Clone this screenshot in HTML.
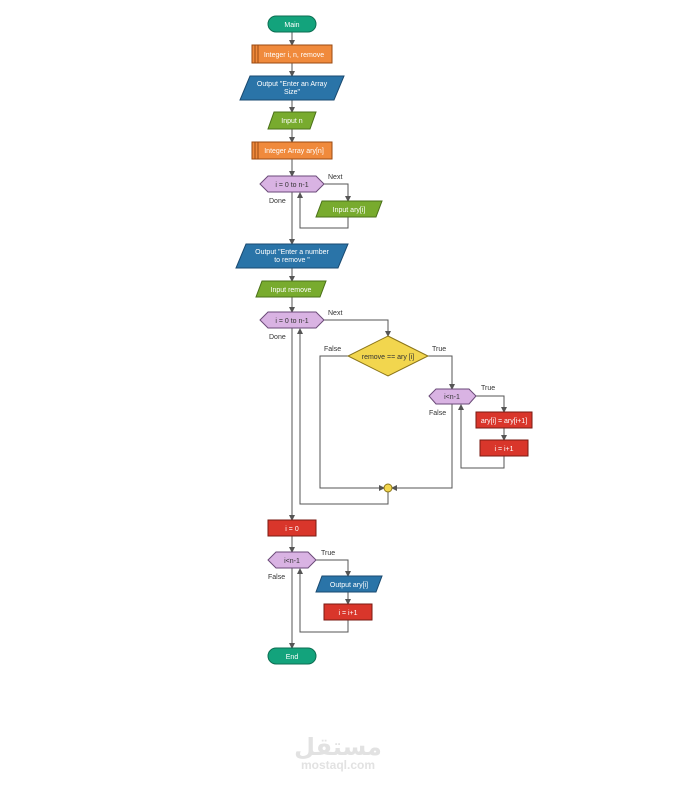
<!DOCTYPE html>
<html><head><meta charset="utf-8"><style>
body{margin:0;background:#fff}
svg{display:block}
text{font-family:"Liberation Sans",Arial,sans-serif;font-size:7px}
.w{fill:#fff;text-anchor:middle}
.l{fill:#333}
.c{stroke:#555;stroke-width:1;fill:none}
</style></head><body>
<svg width="677" height="787" viewBox="0 0 677 787" xmlns="http://www.w3.org/2000/svg">
<defs><marker id="a" markerWidth="6" markerHeight="6" refX="5" refY="3" orient="auto" markerUnits="userSpaceOnUse"><path d="M0,0L6,3L0,6z" fill="#555"/></marker></defs>
<g class="c" marker-end="url(#a)">
<path d="M292 32V45"/><path d="M292 63V76"/><path d="M292 100V112"/><path d="M292 129V142"/><path d="M292 159V176"/>
<path d="M324 184H348V201"/><path d="M348 217V228H300V193"/>
<path d="M292 192V244"/><path d="M292 268V281"/><path d="M292 297V312"/>
<path d="M324 320H388V336"/>
<path d="M428 356H452V389"/>
<path d="M348 356H320V488H384"/>
<path d="M452 404V488H392"/>
<path d="M476 396H504V412"/><path d="M504 428V440"/><path d="M504 456V468H461V405"/>
<path d="M388 492V504H300V329"/>
<path d="M292 328V520"/><path d="M292 536V552"/>
<path d="M316 560H348V576"/><path d="M348 592V604"/><path d="M348 620V632H300V569"/>
<path d="M292 568V648"/>
</g>
<rect x="268" y="16" width="48" height="16" rx="8" fill="#13a37c" stroke="#0c6e52"/>
<text x="292" y="27" class="w">Main</text>
<rect x="252" y="45" width="80" height="18" fill="#f08a3c" stroke="#9a4a12"/><path d="M255 45V63M258 45V63" stroke="#9a4a12"/>
<text x="294" y="57" class="w">Integer i, n, remove</text>
<path d="M250 76H344L334 100H240Z" fill="#2a74a8" stroke="#1a4a70"/>
<text x="292" y="86" class="w">Output "Enter an Array</text><text x="292" y="94" class="w">Size"</text>
<path d="M274 112H316L310 129H268Z" fill="#78ab2e" stroke="#4a7018"/>
<text x="292" y="123" class="w">Input n</text>
<rect x="252" y="142" width="80" height="17" fill="#f08a3c" stroke="#9a4a12"/><path d="M255 142V159M258 142V159" stroke="#9a4a12"/>
<text x="294" y="153" class="w">Integer Array ary[n]</text>
<path d="M268 176H316L324 184L316 192H268L260 184Z" fill="#d9b3e3" stroke="#6a4a78"/>
<text x="292" y="187" fill="#333" text-anchor="middle">i = 0 to n-1</text>
<text x="328" y="179" class="l">Next</text><text x="269" y="203" class="l">Done</text>
<path d="M322 201H382L376 217H316Z" fill="#78ab2e" stroke="#4a7018"/>
<text x="349" y="212" class="w">Input ary[i]</text>
<path d="M246 244H348L338 268H236Z" fill="#2a74a8" stroke="#1a4a70"/>
<text x="292" y="254" class="w">Output "Enter a number</text><text x="292" y="262" class="w">to remove "</text>
<path d="M262 281H326L320 297H256Z" fill="#78ab2e" stroke="#4a7018"/>
<text x="291" y="292" class="w">Input remove</text>
<path d="M268 312H316L324 320L316 328H268L260 320Z" fill="#d9b3e3" stroke="#6a4a78"/>
<text x="292" y="323" fill="#333" text-anchor="middle">i = 0 to n-1</text>
<text x="328" y="315" class="l">Next</text><text x="269" y="339" class="l">Done</text>
<path d="M388 336L428 356L388 376L348 356Z" fill="#f2d64e" stroke="#8a7418"/>
<text x="388" y="359" fill="#333" text-anchor="middle">remove == ary [i]</text>
<text x="324" y="351" class="l">False</text><text x="432" y="351" class="l">True</text>
<path d="M436 389H469L476 396L469 404H436L429 396Z" fill="#d9b3e3" stroke="#6a4a78"/>
<text x="452" y="399" fill="#333" text-anchor="middle">i&lt;n-1</text>
<text x="481" y="390" class="l">True</text><text x="429" y="415" class="l">False</text>
<rect x="476" y="412" width="56" height="16" fill="#d9362b" stroke="#7a1a12"/>
<text x="504" y="423" class="w">ary[i] = ary[i+1]</text>
<rect x="480" y="440" width="48" height="16" fill="#d9362b" stroke="#7a1a12"/>
<text x="504" y="451" class="w">i = i+1</text>
<circle cx="388" cy="488" r="4" fill="#f2d64e" stroke="#8a7418"/>
<rect x="268" y="520" width="48" height="16" fill="#d9362b" stroke="#7a1a12"/>
<text x="292" y="531" class="w">i = 0</text>
<path d="M276 552H308L316 560L308 568H276L268 560Z" fill="#d9b3e3" stroke="#6a4a78"/>
<text x="292" y="563" fill="#333" text-anchor="middle">i&lt;n-1</text>
<text x="321" y="555" class="l">True</text><text x="268" y="579" class="l">False</text>
<path d="M322 576H382L376 592H316Z" fill="#2a74a8" stroke="#1a4a70"/>
<text x="349" y="587" class="w">Output ary[i]</text>
<rect x="324" y="604" width="48" height="16" fill="#d9362b" stroke="#7a1a12"/>
<text x="348" y="615" class="w">i = i+1</text>
<rect x="268" y="648" width="48" height="16" rx="8" fill="#13a37c" stroke="#0c6e52"/>
<text x="292" y="659" class="w">End</text>
<text x="338" y="755" text-anchor="middle" style="font-family:'DejaVu Sans',sans-serif;font-size:24px;font-weight:bold" fill="#e2e2e2">مستقل</text>
<text x="338" y="769" text-anchor="middle" style="font-size:12px;font-weight:bold" fill="#e2e2e2">mostaql.com</text>
</svg>
</body></html>
